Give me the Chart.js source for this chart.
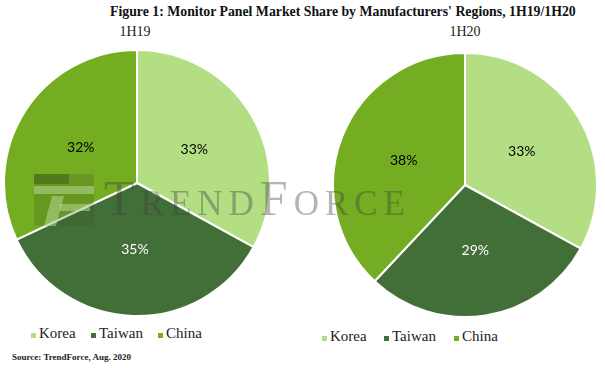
<!DOCTYPE html>
<html>
<head>
<meta charset="utf-8">
<script src="https://cdn.jsdelivr.net/npm/chart.js@4"></script>
<style>
  body { margin: 0; background: #fff; width: 605px; height: 368px; position: relative; overflow: hidden; font-family: "Liberation Serif", serif; }
  .abs { position: absolute; }
  #title { top: 4px; left: 110px; white-space: nowrap; font-weight: bold; font-size: 13.8px; color: #111; }
  .sub { top: 24px; font-size: 14px; color: #222; width: 80px; text-align: center; }
  .legend { font-size: 15px; color: #222; white-space: nowrap; }
  .legend i { position: absolute; width: 5px; height: 5px; }
  .legend span { position: absolute; }
  #source { left: 12px; top: 352px; font-size: 9px; color: #222; font-weight: bold; }
  #wm { left: 104px; top: 169px; font-size: 50px; font-variant: small-caps; color: rgba(60,60,60,0.38); letter-spacing: 6px; pointer-events: none; white-space: nowrap; }
  #logo { left: 34px; top: 174px; width: 60px; height: 52px; pointer-events: none; }
</style>
</head>
<body>
<div id="title" class="abs">Figure 1: Monitor Panel Market Share by Manufacturers' Regions, 1H19/1H20</div>
<div class="abs sub" style="left:95px">1H19</div>
<div class="abs sub" style="left:425px">1H20</div>
<canvas id="c1" class="abs" style="left:3px;top:49px" width="268" height="268"></canvas>
<canvas id="c2" class="abs" style="left:332px;top:52px" width="266" height="266"></canvas>
<div id="lg1" class="abs legend" style="left:31px;top:335px"></div>
<div id="lg2" class="abs legend" style="left:322px;top:338px"></div>
<div id="source" class="abs">Source: TrendForce, Aug. 2020</div>
<svg id="logo" class="abs" viewBox="0 0 60 52">
  <rect x="0" y="0" width="60" height="52" rx="3" fill="rgba(60,90,30,0.25)"/>
  <rect x="0" y="0" width="35" height="10" fill="rgba(40,70,20,0.35)"/>
  <rect x="0" y="12" width="60" height="8" fill="rgba(200,230,170,0.45)"/>
  <polygon points="18,22 30,22 22,52 10,52" fill="rgba(200,230,170,0.45)"/>
  <rect x="26" y="30" width="30" height="7" fill="rgba(200,230,170,0.45)"/>
</svg>
<div id="wm" class="abs">TrendForce</div>
<script>
var categories = ["Korea", "Taiwan", "China"];
var colors = ["#B3DE84", "#426E37", "#74AC22"];
var labelColors = ["#000000", "#ffffff", "#000000"];
var share1H19 = [33, 35, 32];
var share1H20 = [33, 29, 38];
var legendOffsets = [[0, 60, 127], [0, 62, 132]];

var pctLabels = {
  id: "pctLabels",
  afterDatasetsDraw: function (chart) {
    var ctx = chart.ctx;
    var ds = chart.data.datasets[0];
    chart.getDatasetMeta(0).data.forEach(function (arc, i) {
      var p = arc.tooltipPosition();
      ctx.save();
      ctx.font = "14px Lato";
      ctx.fillStyle = labelColors[i];
      ctx.textAlign = "center";
      ctx.textBaseline = "middle";
      ctx.fillText(ds.data[i] + "%", p.x, p.y);
      ctx.restore();
    });
  }
};

function makePie(id, values) {
  new Chart(id, {
    type: "pie",
    data: {
      labels: categories,
      datasets: [{
        data: values,
        backgroundColor: colors,
        borderColor: "#ffffff",
        borderWidth: 2
      }]
    },
    options: {
      responsive: false,
      animation: false,
      layout: { padding: 0 },
      plugins: { legend: { display: false }, tooltip: { enabled: false } }
    },
    plugins: [pctLabels]
  });
}

// legend: div top = vertical centre of the marker
function makeLegend(id, offs) {
  document.getElementById(id).innerHTML = categories.map(function (c, i) {
    return '<i style="left:' + offs[i] + 'px;top:-2px;background:' + colors[i] + '"></i>' +
      '<span style="left:' + (offs[i] + 8) + 'px;top:-10px">' + c + '</span>';
  }).join("");
}

makePie("c1", share1H19);
makePie("c2", share1H20);
makeLegend("lg1", legendOffsets[0]);
makeLegend("lg2", legendOffsets[1]);
</script>
</body>
</html>
